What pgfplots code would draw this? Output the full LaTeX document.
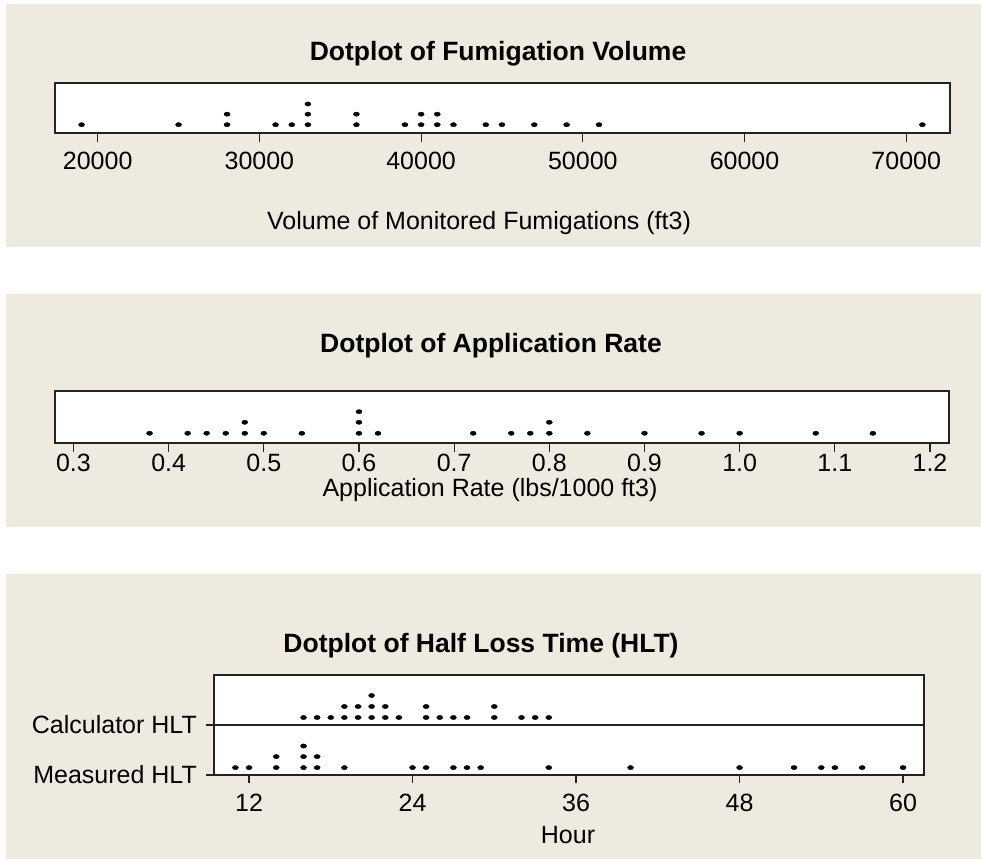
\documentclass[border=0pt]{standalone}
\usepackage{fontspec}
\setmainfont{Liberation Sans}
\usepackage{pgfplots}
\pgfplotsset{compat=1.18}
\definecolor{bg}{RGB}{238,234,224}
\definecolor{fr}{RGB}{35,35,35}
\begin{document}
\begin{tikzpicture}
\fill[white] (0pt,0pt) rectangle (981pt,859pt);
\fill[bg] (6pt,612.3pt) rectangle (981pt,855pt);
\fill[bg] (6pt,332.3pt) rectangle (981pt,565pt);
\fill[bg] (6pt,0pt) rectangle (981pt,285pt);
\pgfplotsset{dp/.style={scale only axis, anchor=south west,
  axis background/.style={fill=white},
  axis line style={fr, line width=1.2pt},
  every tick/.style={fr, line width=1.2pt},
  tick align=outside, major tick length=9pt,
  xtick pos=bottom, ytick pos=left, ytick=\empty,
  xticklabel style={font=\fontsize{25}{25}\selectfont, inner sep=0pt, anchor=north, yshift=-9.7pt},
  /pgf/number format/assume math mode=true,
  scaled ticks=false, clip=false},
  dots/.style={only marks, black, mark=*, mark size=2.5pt, mark options={xscale=1.2, yscale=0.85}}}
% Panel 1
\begin{axis}[dp, at={(55pt,726pt)}, width=895pt, height=50pt,
  xmin=17359, xmax=72709, ymin=0, ymax=50,
  xtick={20000,30000,40000,50000,60000,70000},
  xticklabels={20000,30000,40000,50000,60000,70000}]
\addplot[dots] coordinates {
(19000,8.3)(25000,8.3)(28000,8.3)(28000,18.8)(31000,8.3)(32000,8.3)
(33000,8.3)(33000,18.8)(33000,29)(36000,8.3)(36000,18.8)(39000,8.3)
(40000,8.3)(40000,18.8)(41000,8.3)(41000,18.8)(42000,8.3)(44000,8.3)
(45000,8.3)(47000,8.3)(49000,8.3)(51000,8.3)(71000,8.3)};
\end{axis}
\node[anchor=base, font=\fontsize{26.5}{26.5}\selectfont\bfseries] at (498pt,798pt) {Dotplot of Fumigation Volume};
\node[anchor=base, font=\fontsize{25}{25}\selectfont] at (479pt,629pt) {Volume of Monitored Fumigations (ft3)};
% Panel 2
\begin{axis}[dp, at={(55pt,416pt)}, width=894pt, height=52pt,
  xmin=0.2806, xmax=1.22, ymin=0, ymax=52,
  xtick={0.3,0.4,0.5,0.6,0.7,0.8,0.9,1.0,1.1,1.2},
  xticklabels={0.3,0.4,0.5,0.6,0.7,0.8,0.9,1.0,1.1,1.2},
  xticklabel style={yshift=7.7pt}]
\addplot[dots] coordinates {
(0.38,9.7)(0.42,9.7)(0.44,9.7)(0.46,9.7)(0.48,9.7)(0.48,20.7)(0.50,9.7)
(0.54,9.7)(0.60,9.7)(0.60,20.7)(0.60,31.3)(0.62,9.7)(0.72,9.7)(0.76,9.7)
(0.78,9.7)(0.80,9.7)(0.80,20.7)(0.84,9.7)(0.90,9.7)(0.96,9.7)(1.00,9.7)
(1.08,9.7)(1.14,9.7)};
\end{axis}
\node[anchor=base, font=\fontsize{26.5}{26.5}\selectfont\bfseries] at (491pt,506pt) {Dotplot of Application Rate};
\node[anchor=base, font=\fontsize{25}{25}\selectfont] at (490pt,362pt) {Application Rate (lbs/1000 ft3)};
% Panel 3
\begin{axis}[dp, at={(214pt,84pt)}, width=710pt, height=100pt,
  xmin=9.43, xmax=61.54, ymin=0, ymax=100,
  xtick={12,24,36,48,60}, xticklabels={12,24,36,48,60},
  ytick={0,50}, yticklabels={Measured HLT,Calculator HLT},
  major tick length=8pt,
  xticklabel style={yshift=-1.3pt},
  yticklabel style={font=\fontsize{25}{25}\selectfont, inner sep=0pt, anchor=east, xshift=-9pt}]
\addplot[fr, line width=1.2pt, mark=none] coordinates {(9.43,50)(61.54,50)};
\addplot[dots] coordinates {
(16,57.5)(17,57.5)(18,57.5)(19,57.5)(19,68.5)(20,57.5)(20,68.5)
(21,57.5)(21,68.5)(21,79.5)(22,57.5)(22,68.5)(23,57.5)(25,57.5)(25,68.5)
(26,57.5)(27,57.5)(28,57.5)(30,57.5)(30,68.5)(32,57.5)(33,57.5)(34,57.5)};
\addplot[dots] coordinates {
(11,7.4)(12,7.4)(14,7.4)(14,18.4)(16,7.4)(16,18.4)(16,29)(17,7.4)(17,18.4)
(19,7.4)(24,7.4)(25,7.4)(27,7.4)(28,7.4)(29,7.4)(34,7.4)(40,7.4)(48,7.4)
(52,7.4)(54,7.4)(55,7.4)(57,7.4)(60,7.4)};
\end{axis}
\node[anchor=base, font=\fontsize{26.5}{26.5}\selectfont\bfseries] at (481pt,206pt) {Dotplot of Half Loss Time (HLT)};
\node[anchor=base, font=\fontsize{25}{25}\selectfont] at (568pt,16pt) {Hour};
\end{tikzpicture}
\end{document}
